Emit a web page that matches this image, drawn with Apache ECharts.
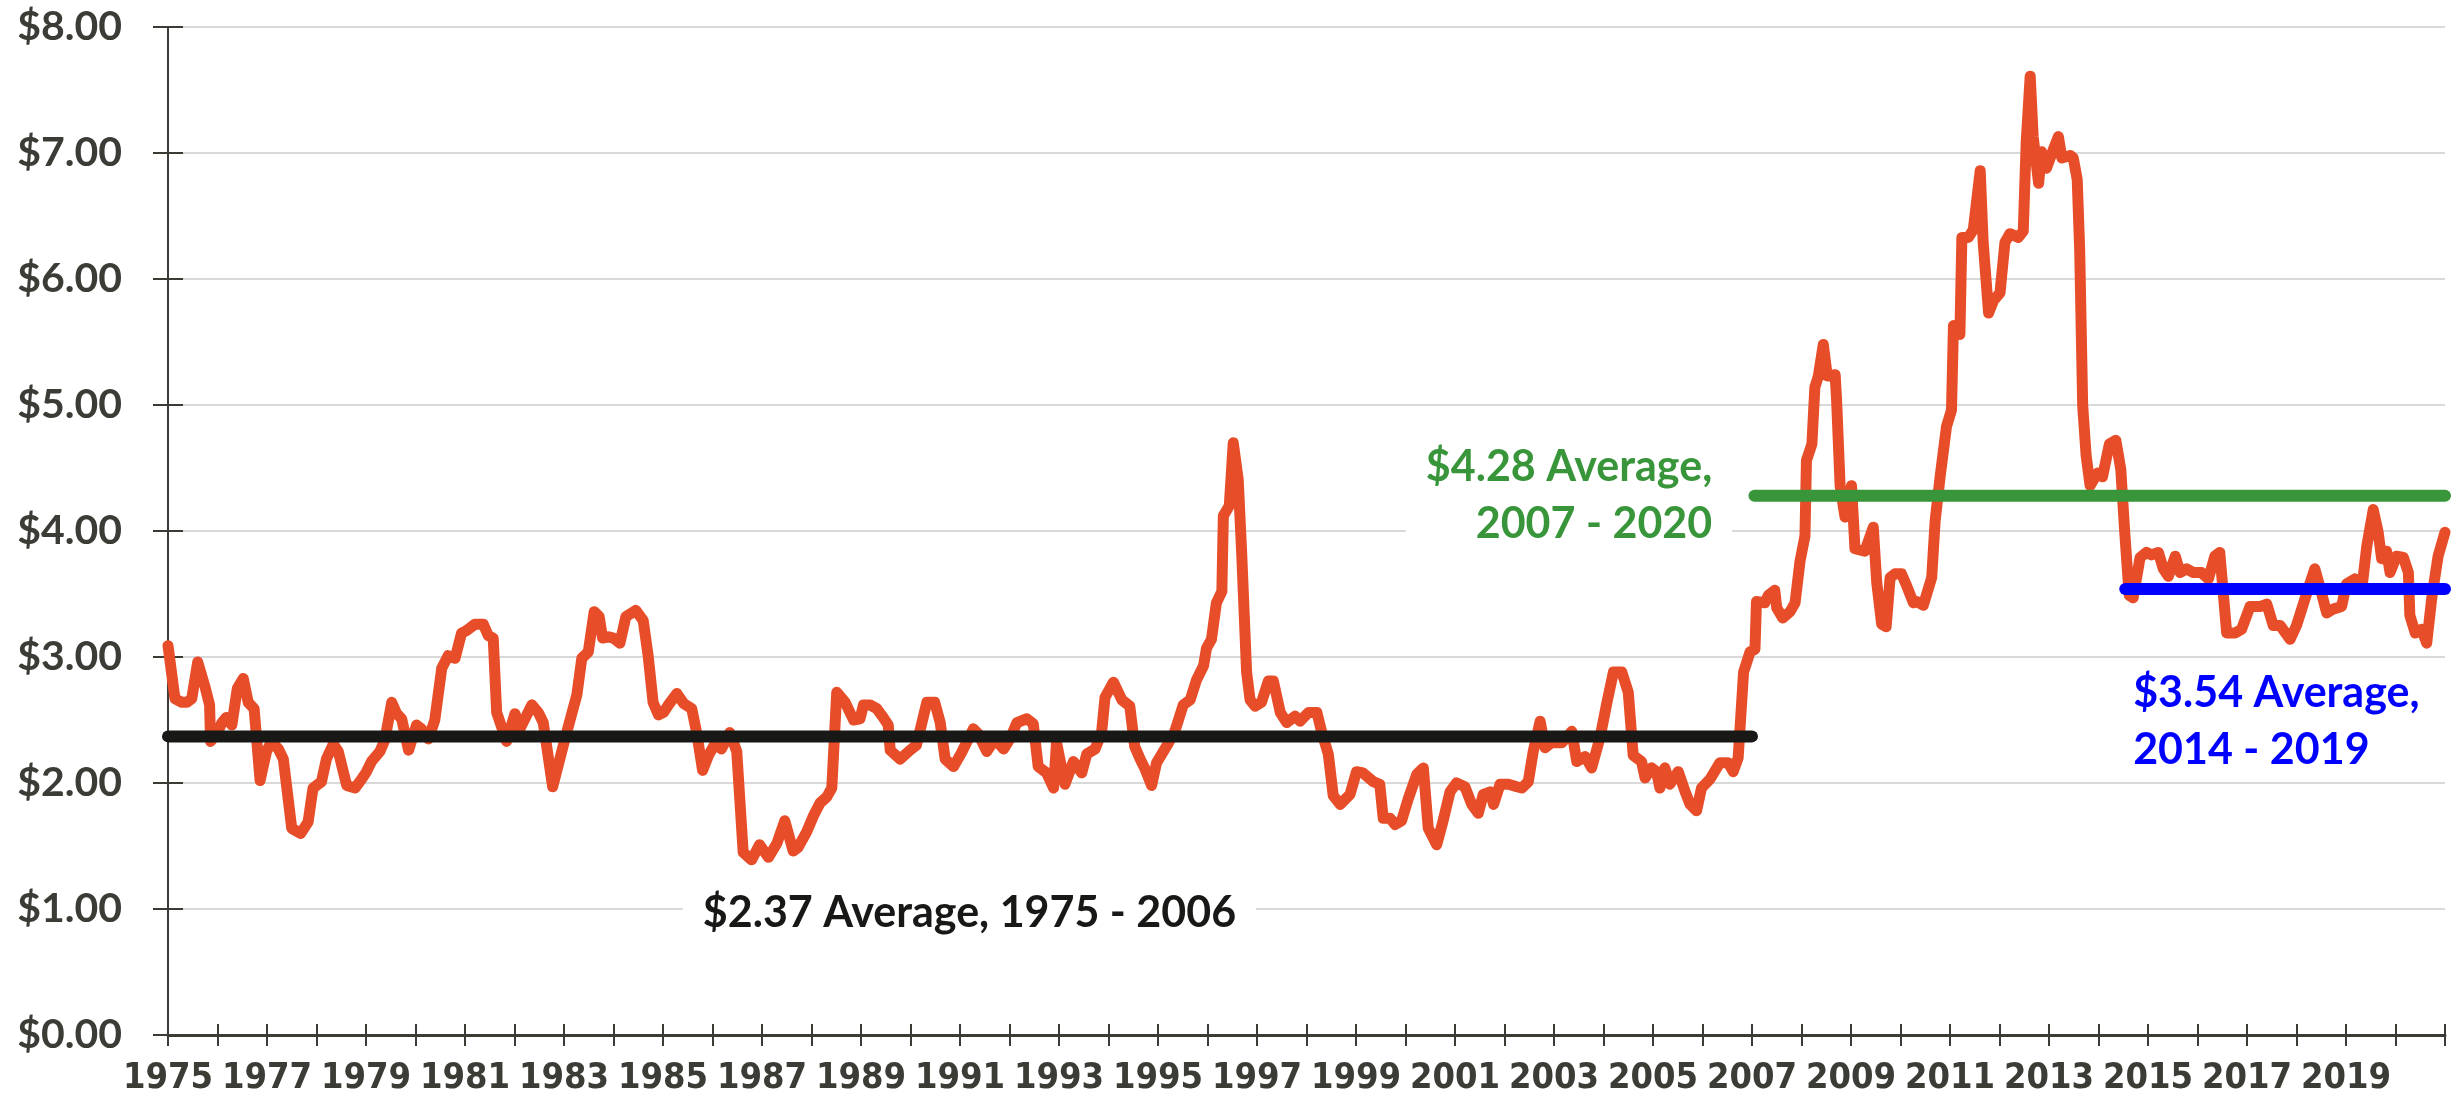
<!DOCTYPE html>
<html>
<head>
<meta charset="utf-8">
<title>Price history with period averages</title>
<script src="https://cdn.jsdelivr.net/npm/echarts@6/dist/echarts.min.js"></script>
<style>
  html, body { margin: 0; padding: 0; background: #fff; }
  #chart { width: 2456px; height: 1103px; }
</style>
</head>
<body>
<div id="chart"></div>
<script>
// price readings, as fractional year / dollars
const priceYears = [
  1975.00, 1975.14, 1975.28, 1975.38, 1975.48, 1975.60, 1975.75, 1975.84, 1975.86,
  1976.00, 1976.09, 1976.18, 1976.29, 1976.40, 1976.52, 1976.62, 1976.74, 1976.86, 1976.99,
  1977.09, 1977.23, 1977.33, 1977.50, 1977.68, 1977.83, 1977.93,
  1978.10, 1978.20, 1978.34, 1978.44, 1978.61, 1978.78, 1978.91,
  1979.01, 1979.11, 1979.28, 1979.38, 1979.52, 1979.62, 1979.72, 1979.86,
  1980.02, 1980.12, 1980.26, 1980.39, 1980.53, 1980.66, 1980.80, 1980.93,
  1981.03, 1981.20, 1981.37, 1981.47, 1981.57, 1981.64, 1981.84,
  1982.01, 1982.11, 1982.35, 1982.48, 1982.58, 1982.77,
  1983.02, 1983.26, 1983.36, 1983.49, 1983.61, 1983.71, 1983.78, 1983.90,
  1984.00, 1984.13, 1984.25, 1984.45, 1984.60, 1984.70, 1984.80, 1984.91,
  1985.01, 1985.11, 1985.28, 1985.42, 1985.58, 1985.68, 1985.80, 1985.92,
  1986.05, 1986.18, 1986.35, 1986.49, 1986.62, 1986.79, 1986.95,
  1987.13, 1987.30, 1987.46, 1987.63, 1987.73, 1987.90,
  1988.04, 1988.17, 1988.31, 1988.41, 1988.51, 1988.68, 1988.85, 1988.98,
  1989.05, 1989.18, 1989.32, 1989.45, 1989.55, 1989.59, 1989.79, 1989.99,
  1990.12, 1990.33, 1990.49, 1990.60, 1990.70, 1990.87,
  1991.03, 1991.27, 1991.37, 1991.54, 1991.71, 1991.88,
  1992.01, 1992.15, 1992.35, 1992.48, 1992.58, 1992.75, 1992.89, 1992.95,
  1993.12, 1993.29, 1993.46, 1993.56, 1993.73, 1993.86, 1993.93,
  1994.10, 1994.27, 1994.43, 1994.53, 1994.64, 1994.74, 1994.87, 1994.97,
  1995.17, 1995.34, 1995.51, 1995.65, 1995.78, 1995.92, 1995.98,
  1996.08, 1996.18, 1996.29, 1996.32, 1996.44, 1996.52, 1996.62, 1996.69, 1996.79, 1996.86, 1996.96,
  1997.09, 1997.23, 1997.33, 1997.47, 1997.60, 1997.77, 1997.87,
  1998.04, 1998.21, 1998.31, 1998.44, 1998.54, 1998.68, 1998.88,
  1999.01, 1999.14, 1999.35, 1999.48, 1999.55, 1999.69, 1999.79, 1999.92,
  2000.06, 2000.23, 2000.36, 2000.46, 2000.63, 2000.76, 2000.90,
  2001.03, 2001.20, 2001.34, 2001.47, 2001.57, 2001.71, 2001.78, 2001.91,
  2002.08, 2002.25, 2002.35, 2002.48, 2002.58, 2002.72, 2002.82, 2002.95,
  2003.16, 2003.36, 2003.46, 2003.63, 2003.76, 2003.93,
  2004.07, 2004.20, 2004.37, 2004.50, 2004.60, 2004.77, 2004.84, 2004.97,
  2005.07, 2005.14, 2005.24, 2005.34, 2005.51, 2005.65, 2005.75, 2005.88, 2005.98,
  2006.15, 2006.35, 2006.52, 2006.62, 2006.72, 2006.83, 2006.96,
  2007.06, 2007.09, 2007.26, 2007.33, 2007.46, 2007.50, 2007.62, 2007.77, 2007.87, 2007.97,
  2008.07, 2008.10, 2008.21, 2008.27, 2008.34, 2008.44, 2008.52, 2008.68, 2008.71, 2008.78, 2008.88,
  2009.01, 2009.05, 2009.08, 2009.28, 2009.45, 2009.52, 2009.62, 2009.71, 2009.79, 2009.89,
  2010.02, 2010.13, 2010.26, 2010.33, 2010.46, 2010.63, 2010.70, 2010.80, 2010.93,
  2011.03, 2011.07, 2011.20, 2011.24, 2011.37, 2011.47, 2011.61, 2011.67, 2011.78, 2011.88,
  2012.01, 2012.11, 2012.21, 2012.38, 2012.48, 2012.54, 2012.62, 2012.68, 2012.79, 2012.85, 2012.95,
  2013.09, 2013.19, 2013.26, 2013.43, 2013.49, 2013.57, 2013.62, 2013.68, 2013.75, 2013.83, 2013.98,
  2014.08, 2014.22, 2014.35, 2014.45, 2014.53, 2014.62, 2014.70, 2014.84, 2014.97,
  2015.07, 2015.21, 2015.31, 2015.41, 2015.55, 2015.65, 2015.78, 2015.92,
  2016.08, 2016.22, 2016.35, 2016.45, 2016.59, 2016.76, 2016.89,
  2017.06, 2017.26, 2017.40, 2017.53, 2017.67, 2017.87,
  2018.00, 2018.21, 2018.37, 2018.47, 2018.61, 2018.74, 2018.91,
  2019.01, 2019.18, 2019.32, 2019.42, 2019.55, 2019.65, 2019.72, 2019.82, 2019.89,
  2020.02, 2020.16, 2020.26, 2020.29, 2020.40, 2020.53, 2020.63, 2020.73, 2020.86, 2021.00
]
const priceValues = [
  3.09, 2.67, 2.64, 2.64, 2.67, 2.96, 2.76, 2.62, 2.33,
  2.40, 2.48, 2.52, 2.46, 2.75, 2.83, 2.64, 2.59, 2.02, 2.25,
  2.33, 2.27, 2.19, 1.64, 1.60, 1.69, 1.96,
  2.01, 2.19, 2.31, 2.25, 1.98, 1.96, 2.03,
  2.09, 2.17, 2.25, 2.34, 2.64, 2.55, 2.51, 2.26,
  2.46, 2.43, 2.35, 2.50, 2.91, 3.01, 2.99, 3.19,
  3.21, 3.26, 3.26, 3.17, 3.15, 2.56, 2.33,
  2.55, 2.43, 2.62, 2.56, 2.48, 1.97,
  2.35, 2.70, 2.99, 3.04, 3.36, 3.32, 3.15, 3.16,
  3.15, 3.11, 3.32, 3.37, 3.29, 3.01, 2.64, 2.54,
  2.56, 2.62, 2.71, 2.63, 2.59, 2.40, 2.10, 2.22,
  2.31, 2.27, 2.40, 2.25, 1.45, 1.39, 1.51,
  1.41, 1.52, 1.70, 1.46, 1.49, 1.61,
  1.74, 1.84, 1.89, 1.96, 2.72, 2.64, 2.50, 2.51,
  2.62, 2.62, 2.59, 2.52, 2.46, 2.26, 2.19, 2.26,
  2.30, 2.64, 2.64, 2.48, 2.19, 2.13,
  2.24, 2.43, 2.39, 2.25, 2.35, 2.27,
  2.35, 2.48, 2.51, 2.47, 2.13, 2.08, 1.96, 2.32,
  1.99, 2.17, 2.08, 2.23, 2.27, 2.40, 2.68,
  2.80, 2.66, 2.61, 2.29, 2.19, 2.11, 1.98, 2.16,
  2.29, 2.41, 2.62, 2.66, 2.82, 2.93, 3.07,
  3.14, 3.43, 3.52, 4.12, 4.20, 4.70, 4.41, 3.83, 2.88, 2.66, 2.61,
  2.64, 2.81, 2.81, 2.56, 2.48, 2.53, 2.49,
  2.56, 2.56, 2.40, 2.23, 1.90, 1.83, 1.91,
  2.09, 2.08, 2.01, 1.99, 1.72, 1.72, 1.67, 1.70,
  1.88, 2.07, 2.12, 1.64, 1.51, 1.70, 1.93,
  2.00, 1.97, 1.83, 1.76, 1.91, 1.93, 1.83, 1.99,
  1.99, 1.97, 1.96, 2.01, 2.25, 2.49, 2.28, 2.32,
  2.32, 2.41, 2.17, 2.21, 2.12, 2.36,
  2.64, 2.88, 2.88, 2.72, 2.22, 2.17, 2.04, 2.12,
  2.09, 1.96, 2.12, 1.99, 2.09, 1.93, 1.83, 1.78, 1.96,
  2.03, 2.16, 2.16, 2.09, 2.20, 2.88, 3.04,
  3.06, 3.44, 3.43, 3.49, 3.53, 3.39, 3.31, 3.36, 3.43, 3.76,
  3.96, 4.56, 4.69, 5.14, 5.23, 5.48, 5.23, 5.24, 5.03, 4.36, 4.11,
  4.36, 4.08, 3.86, 3.84, 4.03, 3.59, 3.26, 3.24, 3.63, 3.66,
  3.66, 3.56, 3.43, 3.44, 3.41, 3.63, 4.08, 4.43, 4.83,
  4.96, 5.63, 5.56, 6.33, 6.33, 6.39, 6.86, 6.29, 5.73, 5.83,
  5.89, 6.29, 6.36, 6.33, 6.38, 7.09, 7.61, 7.13, 6.76, 7.01, 6.88,
  7.03, 7.13, 6.96, 6.98, 6.96, 6.79, 6.23, 5.00, 4.60, 4.36, 4.46,
  4.43, 4.69, 4.72, 4.49, 3.99, 3.49, 3.47, 3.79, 3.83,
  3.81, 3.83, 3.70, 3.64, 3.80, 3.67, 3.70, 3.67,
  3.67, 3.62, 3.80, 3.83, 3.19, 3.19, 3.22,
  3.40, 3.40, 3.42, 3.25, 3.25, 3.14,
  3.25, 3.51, 3.70, 3.56, 3.35, 3.38, 3.40,
  3.58, 3.62, 3.54, 3.88, 4.17, 3.99, 3.78, 3.84, 3.67,
  3.80, 3.79, 3.67, 3.33, 3.19, 3.22, 3.11, 3.46, 3.80, 3.99
]

// period averages
const avgValues = [2.37, 4.28, 3.54]
const avgStart = [1975, 2007.05, 2014.54]
const avgEnd = [2007, 2021, 2021]
const avgColors = ['#181816', '#38953a', '#0000ff']
const avgNotes = ['$2.37 Average, 1975 - 2006', '$4.28 Average,\n2007 - 2020', '$3.54 Average,\n2014 - 2019']
// where each note sits, in data units
const noteYears = [1985.4, 2006.6, 2014.7]
const noteValues = [0.97, 4.28, 2.49]
const noteAlign = ['left', 'right', 'left']

const axisColor = '#3c3c37'
const labelFont = 'Lato, "Noto Sans", sans-serif'

// pick a narrow face for the year labels if one is installed
function hasFont(name) {
  const ctx = document.createElement('canvas').getContext('2d')
  const sample = 'abcdefghijklm 0123456789'
  ctx.font = '72px monospace'
  const base = ctx.measureText(sample).width
  ctx.font = '72px "' + name + '", monospace'
  return ctx.measureText(sample).width !== base
}
let yearFont = labelFont
let yearSize = 34
if (hasFont('Liberation Sans Narrow')) {
  yearFont = '"Liberation Sans Narrow"'
  yearSize = 40
} else if (hasFont('DejaVu Sans Condensed')) {
  yearFont = '"DejaVu Sans Condensed"'
  yearSize = 36
}

const chart = echarts.init(document.getElementById('chart'))

const priceData = priceYears.map((y, i) => [y, priceValues[i]])

const avgSeries = avgValues.map((v, i) => ({
  name: avgNotes[i],
  type: 'line',
  data: [[avgStart[i], v], [avgEnd[i], v]],
  showSymbol: false,
  silent: true,
  clip: true,
  lineStyle: { color: avgColors[i], width: 12, cap: 'round' },
  z: 3
}))

function yearAxis(inside) {
  return {
    type: 'value',
    position: 'bottom',
    min: 1975,
    max: 2021,
    interval: 1,
    axisLine: { show: !inside, onZero: false, lineStyle: { color: axisColor, width: 3 } },
    axisTick: { show: true, inside: inside, length: 11, lineStyle: { color: axisColor, width: 2 } },
    axisLabel: {
      show: !inside,
      margin: 26,
      color: axisColor,
      fontSize: yearSize,
      fontWeight: 'bold',
      fontFamily: yearFont,
      formatter: (v) => (v % 2 === 1 && v < 2021) ? String(v) : ''
    },
    splitLine: { show: false }
  }
}

function priceAxis(inside) {
  return {
    type: 'value',
    position: 'left',
    min: 0,
    max: 8,
    interval: 1,
    axisLine: { show: !inside, onZero: false, lineStyle: { color: axisColor, width: 2 } },
    axisTick: { show: true, inside: inside, length: 15, lineStyle: { color: axisColor, width: 2 } },
    axisLabel: {
      show: !inside,
      margin: 46,
      color: axisColor,
      fontSize: 41,
      fontWeight: 'bold',
      fontFamily: labelFont,
      formatter: (v) => '$' + v.toFixed(2)
    },
    splitLine: { show: !inside, lineStyle: { color: '#d9d9d9', width: 2 } }
  }
}

chart.setOption({
  animation: false,
  backgroundColor: '#fff',
  grid: { left: 168, right: 11, top: 27, bottom: 68, containLabel: false },
  xAxis: [yearAxis(false), yearAxis(true)],
  yAxis: [priceAxis(false), priceAxis(true)],
  series: [
    {
      name: 'Price',
      type: 'line',
      data: priceData,
      showSymbol: false,
      silent: true,
      lineStyle: { color: '#e84d2a', width: 11, cap: 'round', join: 'round' },
      z: 2
    }
  ].concat(avgSeries)
})

// notes are placed from data units so they follow the axes
const notes = avgNotes.map((text, i) => {
  const p = chart.convertToPixel({ xAxisIndex: 0, yAxisIndex: 0 }, [noteYears[i], noteValues[i]])
  return {
    type: 'text',
    x: p[0],
    y: p[1],
    z: 10,
    style: {
      text: text,
      fill: avgColors[i],
      font: 'bold 43px ' + labelFont,
      align: noteAlign[i],
      verticalAlign: 'middle',
      lineHeight: 57,
      backgroundColor: i === 2 ? 'transparent' : '#fff',
      padding: i === 2 ? 0 : [6, 20]
    }
  }
})

chart.setOption({ graphic: notes })
</script>
</body>
</html>
